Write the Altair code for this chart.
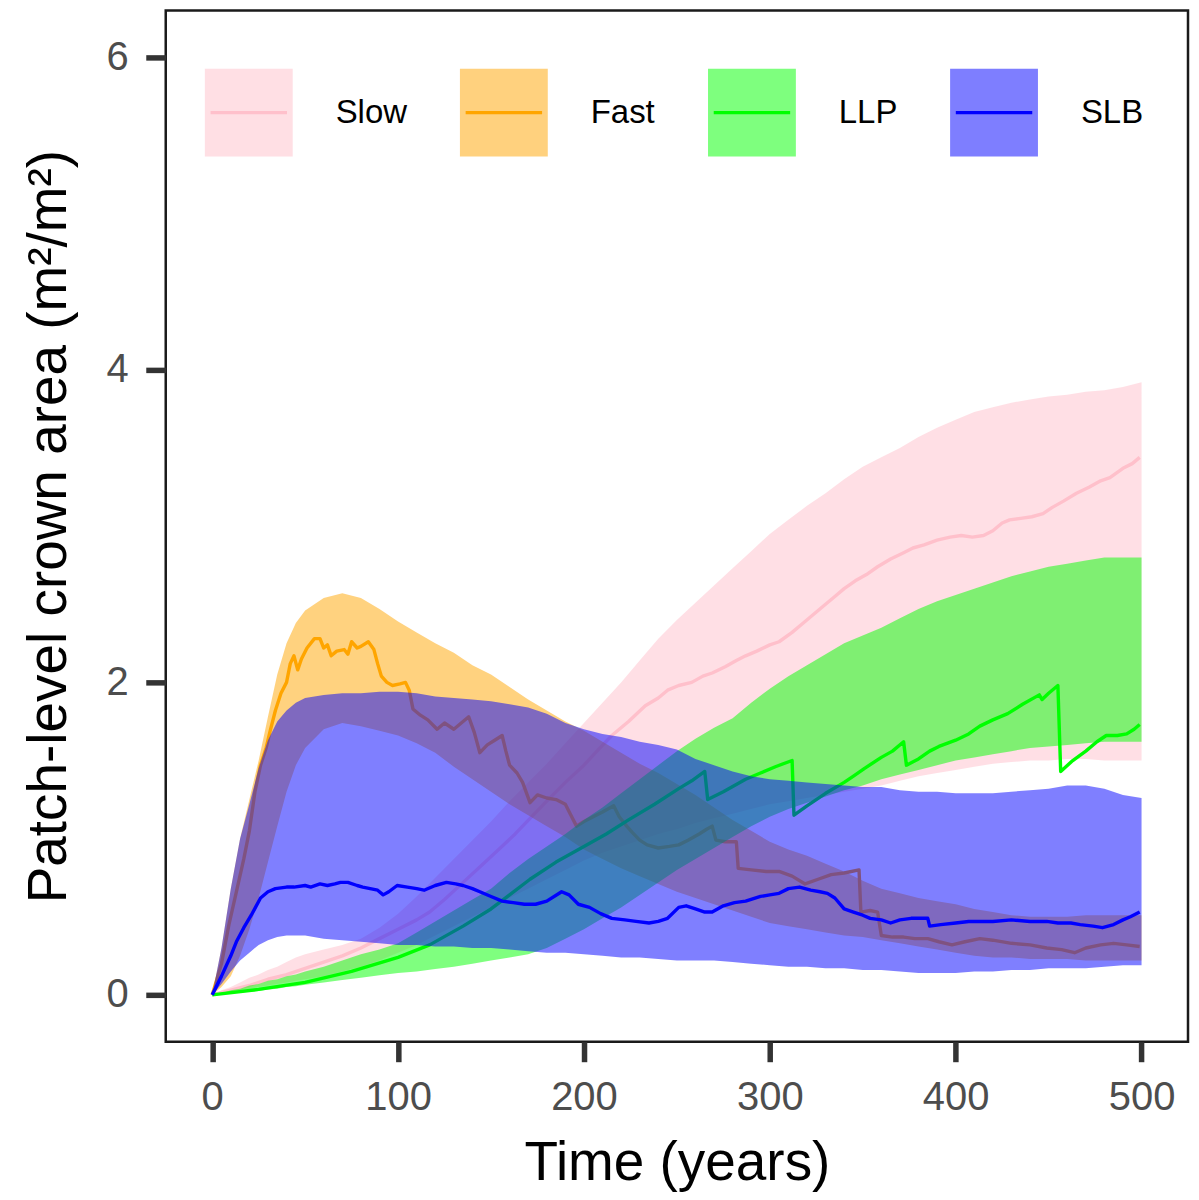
import altair as alt
import pandas as pd

groups = ["Slow", "Fast", "LLP", "SLB"]
colors = ["#FFC0CB", "#FFA500", "#00FF00", "#0000FF"]

band_years = [0, 5, 10, 15, 20, 25, 30, 35, 40, 45, 50,
              60, 70, 80, 90, 100, 110, 120, 130, 140, 150,
              160, 170, 180, 190, 200, 210, 220, 230, 240, 250,
              260, 270, 280, 290, 300, 310, 320, 330, 340, 350,
              360, 370, 380, 390, 400, 410, 420, 430, 440, 450,
              460, 470, 480, 490, 500]

slow_hi = [0, 0.03, 0.05, 0.08, 0.11, 0.13, 0.16, 0.18, 0.21, 0.24, 0.26,
           0.29, 0.32, 0.36, 0.43, 0.52, 0.63, 0.75, 0.87, 0.99, 1.11,
           1.24, 1.36, 1.48, 1.61, 1.74, 1.87, 2.00, 2.14, 2.28, 2.40,
           2.51, 2.62, 2.73, 2.84, 2.95, 3.04, 3.13, 3.21, 3.30, 3.38,
           3.44, 3.50, 3.57, 3.63, 3.68, 3.73, 3.76, 3.79, 3.81, 3.83,
           3.84, 3.86, 3.87, 3.89, 3.92]
slow_lo = [0, 0.01, 0.02, 0.03, 0.04, 0.05, 0.06, 0.07, 0.08, 0.09, 0.10,
           0.12, 0.15, 0.18, 0.22, 0.27, 0.32, 0.38, 0.44, 0.50, 0.56,
           0.62, 0.68, 0.74, 0.80, 0.86, 0.91, 0.95, 0.99, 1.03, 1.06,
           1.10, 1.13, 1.16, 1.19, 1.22, 1.24, 1.26, 1.28, 1.30, 1.32,
           1.34, 1.37, 1.40, 1.42, 1.44, 1.46, 1.48, 1.49, 1.50, 1.50,
           1.51, 1.51, 1.50, 1.50, 1.50]

fast_hi = [0, 0.30, 0.68, 1.00, 1.25, 1.50, 1.78, 2.05, 2.25, 2.38, 2.46,
           2.54, 2.57, 2.54, 2.47, 2.39, 2.32, 2.25, 2.19, 2.11, 2.05,
           1.97, 1.89, 1.82, 1.75, 1.69, 1.62, 1.55, 1.48, 1.42, 1.35,
           1.28, 1.20, 1.12, 1.05, 0.98, 0.93, 0.89, 0.84, 0.79, 0.73,
           0.68, 0.65, 0.62, 0.60, 0.58, 0.55, 0.53, 0.51, 0.50, 0.50,
           0.50, 0.51, 0.51, 0.51, 0.51]
fast_lo = [0, 0.05, 0.12, 0.25, 0.42, 0.62, 0.85, 1.08, 1.30, 1.47, 1.58,
           1.70, 1.74, 1.72, 1.69, 1.66, 1.61, 1.55, 1.46, 1.38, 1.30,
           1.22, 1.15, 1.08, 1.01, 0.93, 0.87, 0.81, 0.76, 0.71, 0.66,
           0.62, 0.58, 0.54, 0.50, 0.46, 0.44, 0.42, 0.40, 0.38, 0.37,
           0.35, 0.33, 0.31, 0.29, 0.27, 0.25, 0.24, 0.24, 0.23, 0.23,
           0.23, 0.22, 0.22, 0.22, 0.22]

llp_hi = [0, 0.01, 0.03, 0.04, 0.06, 0.07, 0.09, 0.10, 0.12, 0.13, 0.15,
          0.18, 0.22, 0.26, 0.29, 0.33, 0.40, 0.47, 0.54, 0.61, 0.68,
          0.78, 0.87, 0.95, 1.03, 1.12, 1.20, 1.29, 1.38, 1.47, 1.56,
          1.64, 1.71, 1.77, 1.87, 1.96, 2.04, 2.11, 2.18, 2.25, 2.30,
          2.35, 2.41, 2.47, 2.52, 2.56, 2.60, 2.64, 2.68, 2.71, 2.74,
          2.76, 2.78, 2.80, 2.80, 2.80]
llp_lo = [0, 0.005, 0.01, 0.015, 0.02, 0.025, 0.035, 0.04, 0.05, 0.055, 0.065,
          0.08, 0.095, 0.11, 0.125, 0.14, 0.15, 0.165, 0.18, 0.20, 0.22,
          0.24, 0.26, 0.30, 0.36, 0.42, 0.49, 0.56, 0.64, 0.72, 0.80,
          0.87, 0.94, 1.01, 1.08, 1.14, 1.19, 1.23, 1.27, 1.31, 1.34,
          1.38, 1.41, 1.44, 1.47, 1.50, 1.52, 1.54, 1.56, 1.58, 1.59,
          1.60, 1.61, 1.62, 1.62, 1.62]

slb_hi = [0, 0.30, 0.68, 1.00, 1.22, 1.45, 1.63, 1.75, 1.82, 1.87, 1.90,
          1.92, 1.93, 1.93, 1.94, 1.94, 1.93, 1.91, 1.90, 1.89, 1.88,
          1.86, 1.84, 1.80, 1.74, 1.70, 1.67, 1.65, 1.62, 1.60, 1.57,
          1.51, 1.47, 1.43, 1.40, 1.38, 1.37, 1.36, 1.35, 1.34, 1.33,
          1.33, 1.31, 1.30, 1.30, 1.29, 1.29, 1.29, 1.30, 1.31, 1.32,
          1.34, 1.34, 1.32, 1.28, 1.26]
slb_lo = [0, 0.07, 0.15, 0.22, 0.27, 0.32, 0.35, 0.37, 0.38, 0.38, 0.38,
          0.36, 0.35, 0.34, 0.33, 0.32, 0.32, 0.31, 0.31, 0.30, 0.30,
          0.29, 0.28, 0.27, 0.27, 0.26, 0.25, 0.24, 0.24, 0.23, 0.22,
          0.22, 0.22, 0.21, 0.20, 0.19, 0.18, 0.18, 0.17, 0.17, 0.16,
          0.16, 0.15, 0.14, 0.14, 0.14, 0.15, 0.15, 0.16, 0.16, 0.17,
          0.17, 0.17, 0.18, 0.19, 0.19]

slow_line_t = [0, 10, 20, 30, 40, 50, 60, 70, 80, 90, 100, 110, 117, 125, 135,
               145, 155, 163, 171, 180, 190, 200, 207, 215, 224, 233, 240, 245,
               251, 258, 264, 269, 276, 282, 287, 293, 300, 305, 312, 318, 322,
               330, 335, 340, 346, 352, 358, 365, 372, 377, 383, 390, 397, 403,
               409, 415, 420, 425, 429, 435, 441, 447, 452, 458, 465, 472, 478,
               483, 490, 495, 499]
slow_line_v = [0, 0.03, 0.06, 0.10, 0.13, 0.17, 0.21, 0.25, 0.30, 0.36, 0.42,
               0.48, 0.53, 0.61, 0.72, 0.83, 0.94, 1.03, 1.13, 1.24, 1.36, 1.47,
               1.56, 1.66, 1.75, 1.85, 1.90, 1.95, 1.98, 2.00, 2.04, 2.06, 2.10,
               2.14, 2.17, 2.20, 2.24, 2.26, 2.32, 2.38, 2.42, 2.50, 2.55, 2.60,
               2.65, 2.69, 2.74, 2.79, 2.83, 2.86, 2.88, 2.91, 2.93, 2.94, 2.93,
               2.94, 2.97, 3.02, 3.04, 3.05, 3.06, 3.08, 3.12, 3.16, 3.21, 3.25,
               3.29, 3.31, 3.37, 3.40, 3.44]

fast_line_t = [0, 5, 9, 13, 17, 20, 23, 26, 29, 31, 34, 37, 40, 42, 44, 46, 48,
               51, 55, 58, 60, 62, 64, 67, 71, 73, 75, 78, 80, 84, 87, 89, 91,
               94, 97, 101, 104, 106, 108, 112, 116, 121, 125, 130, 134, 138,
               141, 144, 148, 152, 156, 158, 160, 164, 167, 171, 175, 180, 185,
               190, 193, 196, 200, 205, 210, 216, 219, 223, 226, 230, 234, 240,
               246, 251, 256, 262, 266, 269, 271, 276, 282, 283, 290, 298, 305,
               312, 319, 326, 333, 340, 348, 349, 354, 358, 360, 366, 372, 378,
               385, 391, 398, 405, 413, 420, 430, 440, 449, 457, 464, 470, 478,
               485, 492, 499]
fast_line_v = [0, 0.20, 0.45, 0.66, 0.87, 1.05, 1.30, 1.47, 1.58, 1.68, 1.82,
               1.93, 2.00, 2.12, 2.17, 2.08, 2.15, 2.22, 2.28, 2.28, 2.22, 2.24,
               2.17, 2.20, 2.21, 2.18, 2.26, 2.22, 2.23, 2.26, 2.21, 2.12, 2.04,
               2.00, 1.98, 1.99, 2.00, 1.95, 1.83, 1.79, 1.76, 1.70, 1.74, 1.70,
               1.74, 1.78, 1.68, 1.55, 1.60, 1.63, 1.66, 1.56, 1.47, 1.42, 1.36,
               1.23, 1.28, 1.26, 1.25, 1.22, 1.15, 1.08, 1.11, 1.14, 1.17, 1.21,
               1.14, 1.08, 1.04, 0.99, 0.96, 0.94, 0.95, 0.96, 0.99, 1.03, 1.06,
               1.08, 0.99, 0.98, 0.98, 0.81, 0.80, 0.79, 0.79, 0.76, 0.71, 0.74,
               0.77, 0.78, 0.80, 0.53, 0.54, 0.53, 0.38, 0.37, 0.37, 0.36, 0.36,
               0.34, 0.32, 0.34, 0.36, 0.35, 0.33, 0.32, 0.30, 0.29, 0.27, 0.30,
               0.32, 0.33, 0.32, 0.31]

llp_line_t = [0, 25, 50, 75, 100, 117, 135, 150, 160, 171, 185, 200, 212, 224,
              238, 251, 258, 265, 266.6, 275, 287, 295, 303, 312, 313, 320, 330,
              340, 345, 351, 360, 366, 372, 373.5, 380, 386, 391, 400, 407, 413,
              420, 428, 436, 445, 446.5, 450, 455, 456.5, 463, 470, 476, 481,
              487, 492, 496, 499]
llp_line_v = [0, 0.035, 0.08, 0.15, 0.24, 0.32, 0.44, 0.55, 0.64, 0.74, 0.85,
              0.95, 1.03, 1.12, 1.22, 1.32, 1.37, 1.43, 1.25, 1.30, 1.38, 1.42,
              1.46, 1.50, 1.15, 1.21, 1.29, 1.36, 1.40, 1.45, 1.52, 1.56, 1.62,
              1.47, 1.51, 1.56, 1.59, 1.63, 1.67, 1.72, 1.76, 1.80, 1.86, 1.92,
              1.89, 1.93, 1.98, 1.43, 1.50, 1.56, 1.62, 1.66, 1.66, 1.67, 1.70,
              1.73]

slb_line_t = [0, 5, 10, 13, 17, 21, 26, 30, 34, 40, 44, 50, 53, 58, 62, 66, 69,
              73, 78, 81, 85, 89, 92, 95, 99.5, 105, 110, 114, 120, 126, 131,
              135, 140, 144, 150, 156, 162, 168, 174, 180, 188, 192, 197, 203,
              209, 215, 222, 228, 235, 240, 245, 251, 255, 260, 265, 269, 275,
              281, 287, 295, 300, 305, 310, 316, 322, 327, 331, 335, 340, 345,
              350, 354, 360, 365, 370, 376, 382, 385, 386, 392, 400, 407, 413,
              420, 430, 440, 449, 455, 462, 467, 474, 479, 485, 490, 494, 499]
slb_line_v = [0, 0.12, 0.25, 0.34, 0.43, 0.51, 0.62, 0.66, 0.68, 0.69, 0.69,
              0.70, 0.69, 0.71, 0.70, 0.71, 0.72, 0.72, 0.70, 0.69, 0.68, 0.67,
              0.64, 0.66, 0.70, 0.69, 0.68, 0.67, 0.70, 0.72, 0.71, 0.70, 0.68,
              0.66, 0.63, 0.60, 0.59, 0.58, 0.58, 0.60, 0.66, 0.64, 0.58, 0.56,
              0.52, 0.49, 0.48, 0.47, 0.46, 0.47, 0.49, 0.56, 0.57, 0.55, 0.53,
              0.53, 0.57, 0.59, 0.60, 0.63, 0.64, 0.65, 0.68, 0.69, 0.67, 0.66,
              0.65, 0.62, 0.55, 0.53, 0.51, 0.49, 0.48, 0.46, 0.48, 0.49, 0.49,
              0.49, 0.44, 0.45, 0.46, 0.47, 0.47, 0.47, 0.48, 0.47, 0.47, 0.46,
              0.46, 0.45, 0.44, 0.43, 0.45, 0.48, 0.50, 0.53]

x_ticks = [0, 100, 200, 300, 400, 500]
y_ticks = [0, 2, 4, 6]

band_src = {"Slow": (slow_lo, slow_hi), "Fast": (fast_lo, fast_hi),
            "LLP": (llp_lo, llp_hi), "SLB": (slb_lo, slb_hi)}
line_src = {"Slow": (slow_line_t, slow_line_v), "Fast": (fast_line_t, fast_line_v),
            "LLP": (llp_line_t, llp_line_v), "SLB": (slb_line_t, slb_line_v)}

band_rows = []
for g in groups:
    lo, hi = band_src[g]
    for t, a, b in zip(band_years, lo, hi):
        band_rows.append({"group": g, "t": t, "lo": a, "hi": b})
bands = pd.DataFrame(band_rows)

line_rows = []
for g in groups:
    ts, vs = line_src[g]
    for t, v in zip(ts, vs):
        line_rows.append({"lgroup": g + " ", "t": t, "v": v})
lines = pd.DataFrame(line_rows)

FONT = "Liberation Sans"
LINE_W = 3.4
x_scale = alt.Scale(domain=[-25, 525], nice=False, zero=False)
y_scale = alt.Scale(domain=[-0.3, 6.3], nice=False, zero=False)

common_axis = dict(grid=False, domain=False, tickColor="#333333", tickWidth=5.5,
                   tickSize=20, labelFontSize=40, labelColor="#4D4D4D",
                   labelFont=FONT, titleFont=FONT, titleFontSize=55,
                   titleColor="black", titleFontWeight="normal")
x_axis = alt.Axis(values=x_ticks, format="d", labelPadding=16, titlePadding=19,
                  title="Time (years)", **common_axis)
y_axis = alt.Axis(values=y_ticks, format="d", labelPadding=17.5, titlePadding=29,
                  title="Patch-level crown area (m\u00b2/m\u00b2)", **common_axis)

leg_common = dict(orient="none", legendX=37.2, legendY=56.2, direction="horizontal",
                  columns=4, title=None, symbolSize=7744, symbolStrokeWidth=LINE_W,
                  labelFontSize=33, labelFont=FONT, labelColor="black",
                  labelOffset=41, columnPadding=45.5, padding=0, labelLimit=400)
fill_legend = alt.Legend(symbolType="square", symbolOpacity=0.5,
                         symbolStrokeColor="transparent", **leg_common)
stroke_legend = alt.Legend(symbolType="M-1,-1M-0.87,0H0.87M1,1", labelOpacity=0,
                           labelExpr="trim(datum.label)", **leg_common)

fill_scale = alt.Scale(domain=groups, range=colors)
stroke_scale = alt.Scale(domain=[g + " " for g in groups], range=colors)

layers = []
for g in groups:
    band = alt.Chart(bands).transform_filter(
        alt.datum.group == g
    ).mark_area(opacity=0.5).encode(
        x=alt.X("t:Q", scale=x_scale, axis=x_axis),
        y=alt.Y("lo:Q", scale=y_scale, axis=y_axis),
        y2="hi:Q",
        fill=alt.Fill("group:N", scale=fill_scale, legend=fill_legend),
    )
    line = alt.Chart(lines).transform_filter(
        alt.datum.lgroup == g + " "
    ).mark_line(strokeWidth=LINE_W, strokeJoin="round").encode(
        x=alt.X("t:Q", scale=x_scale, axis=x_axis),
        y=alt.Y("v:Q", scale=y_scale, axis=y_axis),
        stroke=alt.Stroke("lgroup:N", scale=stroke_scale, legend=stroke_legend),
    )
    layers += [band, line]

chart = alt.layer(*layers).properties(
    width=1024, height=1033,
    autosize=alt.AutoSizeParams(type="none"),
    padding={"left": 158, "top": 1.5, "right": 3, "bottom": 150},
).configure(font=FONT).configure_view(stroke="#1a1a1a", strokeWidth=2.5)

chart.save("out.html", embed_options={"renderer": "svg", "actions": False})
